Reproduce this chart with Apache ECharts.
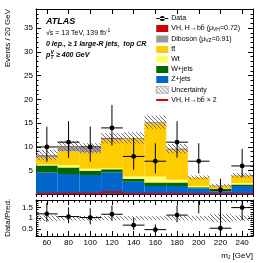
<!DOCTYPE html>
<html><head><meta charset="utf-8">
<script src="https://cdn.jsdelivr.net/npm/echarts@6/dist/echarts.min.js"></script>
<style>html,body{margin:0;padding:0;background:#fff}#c{width:274px;height:263px}</style>
</head><body><div id="c"></div>
<script>
// ---- data ----
const bins      = [60, 80, 100, 120, 140, 160, 180, 200, 220, 240];
const binHalf   = 10;
const zjets     = [4.6, 4.3, 4.1, 4.6, 2.7, 1.8, 1.8, 1.3, 0.7, 1.8];
const wjets     = [1.5, 1.4, 0.9, 0.7, 0.6, 0.7, 0.7, 0.2, 0.3, 0.3];
const wt        = [0.2, 0.5, 0.4, 0.2, 0.5, 1.3, 0.6, 0.3, 0.2, 0.3];
const ttbar     = [1.5, 2.9, 3.5, 6.0, 7.9, 11.2, 6.2, 1.7, 0.6, 1.5];
const diboson   = [0.45, 1.0, 0.7, 0.15, 0.15, 0.15, 0.25, 0.08, 0.08, 0.08];
const vh        = [0.05, 0.1, 0.1, 0.15, 0.05, 0.05, 0.05, 0.02, 0.02, 0.02];
const uncert    = [1.1, 1.1, 1.1, 1.1, 1.2, 1.4, 1.0, 0.4, 0.35, 0.5];
const vhx2      = [0.1, 0.15, 0.15, 0.45, 0.1, 0.1, 0.1, 0.05, 0.05, 0.05];
const dataVals  = [10, 11, 10, 14, 8, 7, 11, 7, 1, 6];
const dataLo    = [6.891, 7.738, 6.891, 10.32, 5.232, 4.419, 7.738, 4.419, 0.173, 3.620];
const dataHi    = [14.27, 15.42, 14.27, 18.83, 11.95, 10.77, 15.42, 10.77, 3.300, 9.584];
const xMajor    = [60, 80, 100, 120, 140, 160, 180, 200, 220, 240];
const yMainLab  = [5, 10, 15, 20, 25, 30, 35];
const yRatioLab = [0.5, 1, 1.5];

// ---- build ----
const FONT = 'Liberation Sans';
const pat = document.createElement('canvas');
pat.width = 4; pat.height = 4;
(function(){const c=pat.getContext('2d');c.strokeStyle='#6e6e6e';c.lineWidth=1;c.beginPath();
c.moveTo(0,0);c.lineTo(4,4);c.moveTo(-1,3);c.lineTo(1,5);c.moveTo(3,-1);c.lineTo(5,1);c.stroke();})();
const hatch = {image: pat, repeat: 'repeat'};

const comps = [
  {name:'Z+jets', vals:zjets, color:'#0066cc'},
  {name:'W+jets', vals:wjets, color:'#006600'},
  {name:'Wt', vals:wt, color:'#ffff66'},
  {name:'ttbar', vals:ttbar, color:'#ffcc00'},
  {name:'Diboson', vals:diboson, color:'#999999'},
  {name:'VH', vals:vh, color:'#cc0000'}
];
const cum = bins.map(()=>0);
const series = [];
comps.forEach(c=>{
  const d = bins.map((b,i)=>{const lo=cum[i]; cum[i]+=c.vals[i]; return [b, lo, cum[i]];});
  series.push({type:'custom', name:c.name, xAxisIndex:0, yAxisIndex:0, clip:true,
    itemStyle:{color:c.color}, data:d, silent:true,
    renderItem:(p,api)=>{const a=api.coord([api.value(0)-binHalf, api.value(1)]);
      const b=api.coord([api.value(0)+binHalf, api.value(2)]);
      return {type:'rect', shape:{x:a[0], y:b[1], width:b[0]-a[0], height:a[1]-b[1]}, style:{fill:c.color}};}});
});
const total = cum.slice();
function rectSeries(name, xi, yi, d, style){
  return {type:'custom', name, xAxisIndex:xi, yAxisIndex:yi, clip:true, data:d, silent:true,
    itemStyle:{color:'#888'},
    renderItem:(p,api)=>{const a=api.coord([api.value(0)-binHalf, api.value(1)]);
      const b=api.coord([api.value(0)+binHalf, api.value(2)]);
      return {type:'rect', shape:{x:a[0], y:b[1], width:b[0]-a[0], height:a[1]-b[1]}, style:style};}};
}
series.push(rectSeries('Uncertainty', 0, 0, bins.map((b,i)=>[b, total[i]-uncert[i], total[i]+uncert[i]]), {fill:hatch}));
// VH x2 line (step)
series.push({type:'custom', name:'VHx2', xAxisIndex:0, yAxisIndex:0, clip:true, silent:true,
  itemStyle:{color:'#dd0000'}, data:bins.map((b,i)=>[b, vhx2[i]]),
  renderItem:(p,api)=>{const a=api.coord([api.value(0)-binHalf, api.value(1)]);const b=api.coord([api.value(0)+binHalf, api.value(1)]);
    const ch=[{type:'line', shape:{x1:a[0],y1:a[1],x2:b[0],y2:b[1]}, style:{stroke:'#dd0000', lineWidth:2}}];
    const i=p.dataIndex;
    if(i<bins.length-1){const n=api.coord([bins[i+1], vhx2[i+1]]); ch.push({type:'line', shape:{x1:b[0],y1:b[1],x2:b[0],y2:n[1]}, style:{stroke:'#dd0000', lineWidth:2}});}
    return {type:'group', children:ch};}});
function dataSeries(name, xi, yi, d){
  return {type:'custom', name, xAxisIndex:xi, yAxisIndex:yi, clip:true, silent:true, itemStyle:{color:'#000'}, data:d, z:5,
    renderItem:(p,api)=>{const c=api.coord([api.value(0), api.value(1)]);
      const l=api.coord([api.value(0)-binHalf, api.value(1)]); const r=api.coord([api.value(0)+binHalf, api.value(1)]);
      const lo=api.coord([api.value(0), api.value(2)]); const hi=api.coord([api.value(0), api.value(3)]);
      return {type:'group', children:[
        {type:'line', shape:{x1:l[0],y1:c[1],x2:r[0],y2:c[1]}, style:{stroke:'#000', lineWidth:1}},
        {type:'line', shape:{x1:c[0],y1:lo[1],x2:c[0],y2:hi[1]}, style:{stroke:'#000', lineWidth:1}},
        {type:'circle', shape:{cx:c[0], cy:c[1], r:2.4}, style:{fill:'#000'}}]};}};
}
series.push(dataSeries('Data', 0, 0, bins.map((b,i)=>[b, dataVals[i], dataLo[i], dataHi[i]])));
// ratio panel
series.push(rectSeries('UncR', 4, 4, bins.map((b,i)=>[b, 1-uncert[i]/total[i], 1+uncert[i]/total[i]]), {fill:hatch}));
series.push(dataSeries('DataR', 4, 4, bins.map((b,i)=>[b, dataVals[i]/total[i], dataLo[i]/total[i], dataHi[i]/total[i]])));

function range(a,b,s){const r=[];for(let v=a;v<=b+1e-9;v+=s)r.push(Math.round(v*1000)/1000);return r;}
function axisPair(grid, min, max, major, minor, pos, labelVals, labelOpts){
  const base = {type:'value', gridIndex:grid, min, max, position:pos, splitLine:{show:false},
    axisLine:{show:true, onZero:false, lineStyle:{color:'#000', width:1}}};
  return [
    Object.assign({}, base, {axisTick:{show:true, inside:true, length:5, customValues:major, lineStyle:{color:'#000'}},
      axisLabel: labelVals ? Object.assign({show:true, customValues:labelVals, color:'#000', fontSize:8, fontFamily:FONT}, labelOpts) : {show:false}}),
    Object.assign({}, base, {axisLine:{show:false}, axisTick:{show:true, inside:true, length:2.5, customValues:minor, lineStyle:{color:'#000'}}, axisLabel:{show:false}})
  ];
}
const xMinor = range(50, 250, 5);
const xAxes = [].concat(
  axisPair(0, 50, 250, xMajor, xMinor, 'bottom', null),
  axisPair(0, 50, 250, xMajor, xMinor, 'top', null),
  axisPair(1, 50, 250, xMajor, xMinor, 'bottom', xMajor, {margin:3}),
  axisPair(1, 50, 250, xMajor, xMinor, 'top', null));
const yAxes = [].concat(
  axisPair(0, 0, 39, range(0,35,5), range(0,39,1), 'left', yMainLab, {margin:3}),
  axisPair(0, 0, 39, range(0,35,5), range(0,39,1), 'right', null),
  axisPair(1, 0.16, 1.86, yRatioLab, range(0.2,1.8,0.1), 'left', yRatioLab, {margin:3}),
  axisPair(1, 0.16, 1.86, yRatioLab, range(0.2,1.8,0.1), 'right', null));

const legendText = {
  'Data':'Data', 'VH':'VH, H→bb\u0304 (μ{s|VH}=0.72)', 'Diboson':'Diboson (μ{s|VZ}=0.91)', 'ttbar':'tt\u0304',
  'Wt':'Wt', 'W+jets':'W+jets', 'Z+jets':'Z+jets', 'Uncertainty':'Uncertainty', 'VHx2':'VH, H→bb\u0304 × 2'};

const option = {
  animation:false,
  textStyle:{fontFamily:FONT},
  grid:[{left:36, top:9, width:217, height:185.5}, {left:36, top:200, width:217, height:36}],
  xAxis:xAxes, yAxis:yAxes,
  legend:{orient:'vertical', left:156, top:15, itemWidth:12, itemHeight:7, itemGap:3, selectedMode:false,
    padding:0,
    textStyle:{fontSize:7, color:'#000', fontFamily:FONT, padding:[0,0,0,-2], rich:{s:{fontSize:5, padding:[3,0,0,0], fontFamily:FONT}}},
    formatter:n=>legendText[n],
    data:[
      {name:'Data', icon:'path://M0,3H12V4H0Z M3.5,3.5a2.5,2.5 0 1,0 5,0a2.5,2.5 0 1,0 -5,0Z', itemStyle:{color:'#000'}},
      {name:'VH', icon:'rect'}, {name:'Diboson', icon:'rect'}, {name:'ttbar', icon:'rect'}, {name:'Wt', icon:'rect'},
      {name:'W+jets', icon:'rect'}, {name:'Z+jets', icon:'rect'},
      {name:'Uncertainty', icon:'rect', itemStyle:{color:hatch, borderColor:'#777', borderWidth:0.5}},
      {name:'VHx2', icon:'path://M0,2.5H12V4.5H0Z', itemStyle:{color:'#dd0000'}}
    ]},
  graphic:[
    {type:'text', x:46, y:22, style:{text:'ATLAS', font:'italic bold 9px '+FONT, fill:'#000', verticalAlign:'middle'}},
    {type:'text', x:46, y:33, style:{text:'√s = 13 TeV, 139 fb{sup|-1}', font:'7px '+FONT, fill:'#000', verticalAlign:'middle',
      rich:{sup:{fontSize:5, padding:[0,0,4,0], fontFamily:FONT}}}},
    {type:'text', x:46, y:44, style:{text:'0 lep., ≥ 1 large-R jets,  top CR', font:'italic bold 7px '+FONT, fill:'#000', verticalAlign:'middle'}},
    {type:'text', x:46, y:55, style:{text:'p', font:'italic bold 7px '+FONT, fill:'#000', verticalAlign:'middle'}},
    {type:'text', x:50.5, y:52.5, style:{text:'V', font:'italic bold 5px '+FONT, fill:'#000', verticalAlign:'middle'}},
    {type:'text', x:50.5, y:57.5, style:{text:'T', font:'italic bold 5px '+FONT, fill:'#000', verticalAlign:'middle'}},
    {type:'text', x:56, y:55, style:{text:'≥ 400 GeV', font:'italic bold 7px '+FONT, fill:'#000', verticalAlign:'middle'}},
    {type:'text', x:8, y:9, rotation:Math.PI/2, style:{text:'Events / 20 GeV', font:'8px '+FONT, fill:'#000', align:'right', verticalAlign:'middle'}},
    {type:'text', x:8, y:218, rotation:Math.PI/2, style:{text:'Data/Pred.', font:'8px '+FONT, fill:'#000', align:'center', verticalAlign:'middle'}},
    {type:'text', x:253, y:256, style:{text:'m{sub|J} [GeV]', font:'8px '+FONT, fill:'#000', align:'right', verticalAlign:'middle',
      rich:{sub:{fontSize:5, padding:[4,0,0,0], fontFamily:FONT}}}}
  ],
  series:series
};
echarts.init(document.getElementById('c'), null, {renderer:'canvas'}).setOption(option);
</script></body></html>
